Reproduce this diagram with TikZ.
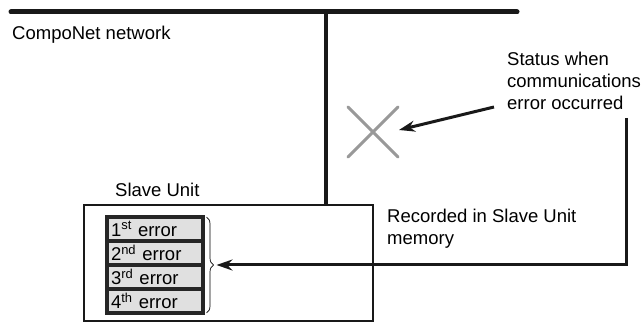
\documentclass[tikz,border=0pt]{standalone}
\usepackage{fontspec}
\setmainfont{Liberation Sans}
\usetikzlibrary{arrows.meta, positioning, calc, decorations.pathreplacing}

\tikzset{
  lbl/.style={font=\fontsize{18.5}{22}\selectfont, inner sep=0pt, align=left},
  errrow/.style={draw=black!85, line width=3.5pt, fill=black!12, minimum width=96pt,
    minimum height=24pt, inner sep=0pt, outer sep=0pt, text width=88pt, align=left,
    font=\fontsize{18.5}{20}\selectfont},
  bigarrow/.style={-{Stealth[length=16pt, width=11pt]}, line width=3pt, black!90}
}

\begin{document}
\begin{tikzpicture}[x=1pt, y=-1pt]
  \useasboundingbox (0,0) rectangle (643,323);

  % network
  \coordinate (busl) at (11,12);
  \coordinate (busr) at (517,12);
  \coordinate (tap) at (326,12);
  \draw[line width=5pt, line cap=round, black!90] (busl) -- (busr);
  \node[lbl, anchor=base west] (net) at (12,40) {CompoNet network};

  % slave unit
  \node[draw=black!90, line width=2pt, minimum width=289pt, minimum height=116pt,
        inner sep=0pt] (slave) at (228.5,263) {};
  \node[lbl, anchor=base west] (slavelbl) at (115,197) {Slave Unit};
  \draw[line width=4.5pt, black!90] (tap) -- (tap |- slave.north);

  % error memory
  \node[errrow] (e1) at (155,229) {1\textsuperscript{st} error};
  \node[errrow, below=0pt of e1] (e2) {2\textsuperscript{nd} error};
  \node[errrow, below=0pt of e2] (e3) {3\textsuperscript{rd} error};
  \node[errrow, below=0pt of e3] (e4) {4\textsuperscript{th} error};
  \draw[decorate, decoration={brace, amplitude=7pt}, line width=0.7pt]
    ([xshift=3.5pt]e1.north east) -- ([xshift=3.5pt]e4.south east)
    coordinate[midway, xshift=10pt] (tip);

  % error status
  \node[lbl, anchor=base west] (status) at (507,110)
    {Status when\\communications\\error occurred};
  \coordinate (xc) at (373,132);
  \draw[line width=3pt, line cap=round, black!40]
    ($(xc)+(-25,-25)$) -- ($(xc)+(25,25)$)
    ($(xc)+(-25,25)$) -- ($(xc)+(25,-25)$);
  \coordinate (from) at (494,107);
  \draw[bigarrow] (from) -- (399,130);

  % recorded
  \node[lbl, anchor=base west] (rec) at (387,245) {Recorded in Slave Unit\\memory};
  \coordinate (rtop) at (626,118);
  \draw[bigarrow] (rtop) -- (rtop |- tip) -- (tip);
\end{tikzpicture}
\end{document}
